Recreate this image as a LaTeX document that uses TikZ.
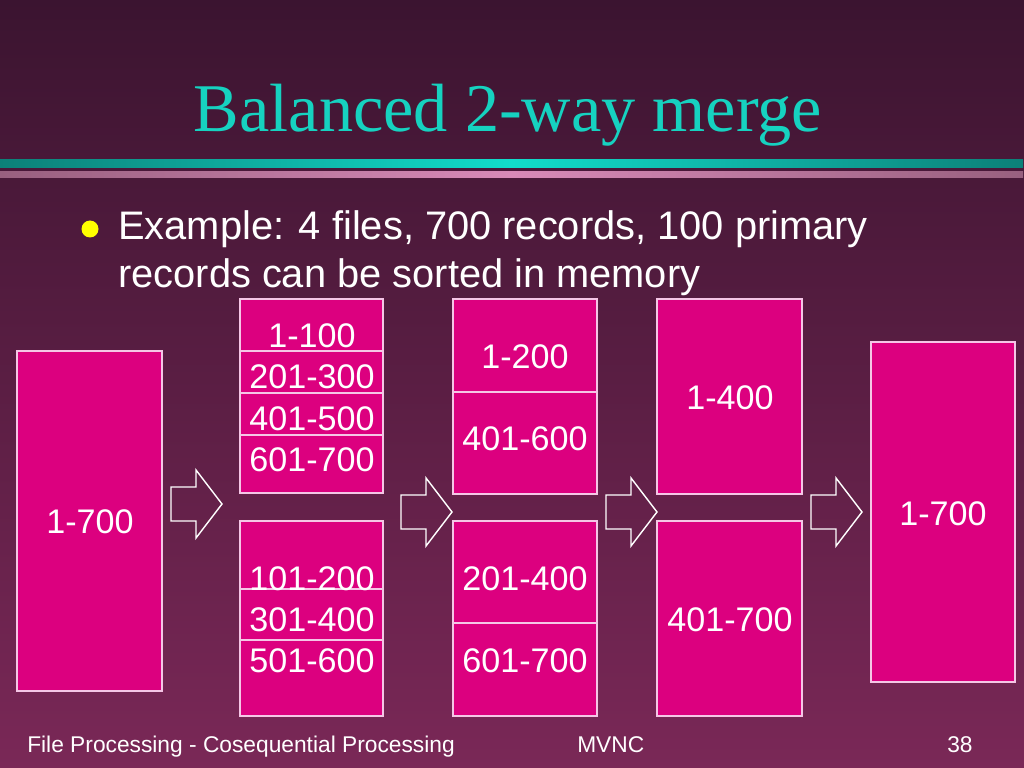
\documentclass[tikz,border=0pt]{standalone}
\usepackage{fontspec}
\setsansfont{Liberation Sans}
\newfontfamily\titlefont{Liberation Serif}
\usetikzlibrary{fit}
\definecolor{bgtop}{HTML}{3B1430}
\definecolor{bgbot}{HTML}{7A2857}
\definecolor{boxfill}{HTML}{DC007F}
\definecolor{boxline}{HTML}{F5C6E6}
\definecolor{titlecol}{HTML}{16D2C0}
\definecolor{tealbright}{HTML}{12DCCB}
\definecolor{tealdark}{HTML}{0C8078}
\definecolor{pinkbright}{HTML}{D88AB8}
\definecolor{pinkdark}{HTML}{98607F}
\definecolor{bulletcol}{HTML}{FFFF00}
\begin{document}
\begin{tikzpicture}[x=0.703125pt,y=-0.703125pt,
  box/.style={draw=boxline, line width=1.1pt, fill=boxfill, inner sep=0pt, outer sep=0pt},
  lbl/.style={text=white, font=\sffamily\fontsize{24}{28}\selectfont, inner sep=0pt},
  divider/.style={draw=boxline, line width=1.1pt},
  barrow/.pic={\draw[white, line width=1pt, line join=miter]
     (0,-17) -- (25,-17) -- (25,-34) -- (51,0) -- (25,34) -- (25,17) -- (0,17) -- cycle;},
  foot/.style={text=white, font=\sffamily\fontsize{16}{18}\selectfont, inner sep=0pt, anchor=base west}]
\useasboundingbox (0,0) rectangle (1024,768);
% background
\shade[top color=bgtop, bottom color=bgbot] (0,0) rectangle (1024,768);
% rules under title
\shade[left color=tealdark, right color=tealdark, middle color=tealbright] (0,160) rectangle (1023,168);
\shade[left color=pinkdark, right color=pinkdark, middle color=pinkbright] (0,172) rectangle (1023,178);
% title
\node[anchor=base, inner sep=0pt, text=titlecol, font=\titlefont\fontsize{48}{52}\selectfont] (title) at (508,132) {Balanced 2-way merge};
% bullet
\fill[bulletcol] (90,229) circle (8.5);
\node[anchor=base west, inner sep=0pt, text=white, font=\sffamily\fontsize{28}{32}\selectfont] (b1) at (118,240) {Example: 4 files, 700 records, 100 primary};
\node[anchor=base west, inner sep=0pt, text=white, font=\sffamily\fontsize{28}{32}\selectfont] (b2) at (118,287) {records can be sorted in memory};
% boxes
\node[box, fit={(17,351) (162,691)}] (src) {};
\node[box, fit={(240,299) (383,493)}] (c2t) {};
\node[box, fit={(240,521) (383,716)}] (c2b) {};
\node[box, fit={(453,299) (597,494)}] (c3t) {};
\node[box, fit={(453,521) (597,716)}] (c3b) {};
\node[box, fit={(657,299) (802,494)}] (c4t) {};
\node[box, fit={(657,521) (802,716)}] (c4b) {};
\node[box, fit={(871,342) (1015,682)}] (dst) {};
% dividers
\draw[divider] (c2t.west |- 0,351) -- (c2t.east |- 0,351);
\draw[divider] (c2t.west |- 0,393) -- (c2t.east |- 0,393);
\draw[divider] (c2t.west |- 0,435) -- (c2t.east |- 0,435);
\draw[divider] (c2b.west |- 0,589) -- (c2b.east |- 0,589);
\draw[divider] (c2b.west |- 0,640) -- (c2b.east |- 0,640);
\draw[divider] (c3t.west |- 0,392) -- (c3t.east |- 0,392);
\draw[divider] (c3b.west |- 0,623) -- (c3b.east |- 0,623);
% labels
\node[lbl] (l0) at (90,522) {1-700};
\node[lbl] (l1) at (312,336) {1-100};
\node[lbl] (l2) at (312,377) {201-300};
\node[lbl] (l3) at (312,419) {401-500};
\node[lbl] (l4) at (312,460) {601-700};
\node[lbl] (l5) at (312,579) {101-200};
\node[lbl] (l6) at (312,620) {301-400};
\node[lbl] (l7) at (312,661) {501-600};
\node[lbl] (l8) at (525,357) {1-200};
\node[lbl] (l9) at (525,439) {401-600};
\node[lbl] (l10) at (525,579) {201-400};
\node[lbl] (l11) at (525,661) {601-700};
\node[lbl] (l12) at (730,398) {1-400};
\node[lbl] (l13) at (730,620) {401-700};
\node[lbl] (l14) at (943,514) {1-700};
% block arrows
\pic at (171,504) {barrow};
\pic at (401,512) {barrow};
\pic at (606,512) {barrow};
\pic at (811,512) {barrow};
% footer
\node[foot] (f1) at (27,752) {File Processing - Cosequential Processing};
\node[foot] (f2) at (577,752) {MVNC};
\node[foot] (f3) at (947,752) {38};
\end{tikzpicture}
\end{document}
